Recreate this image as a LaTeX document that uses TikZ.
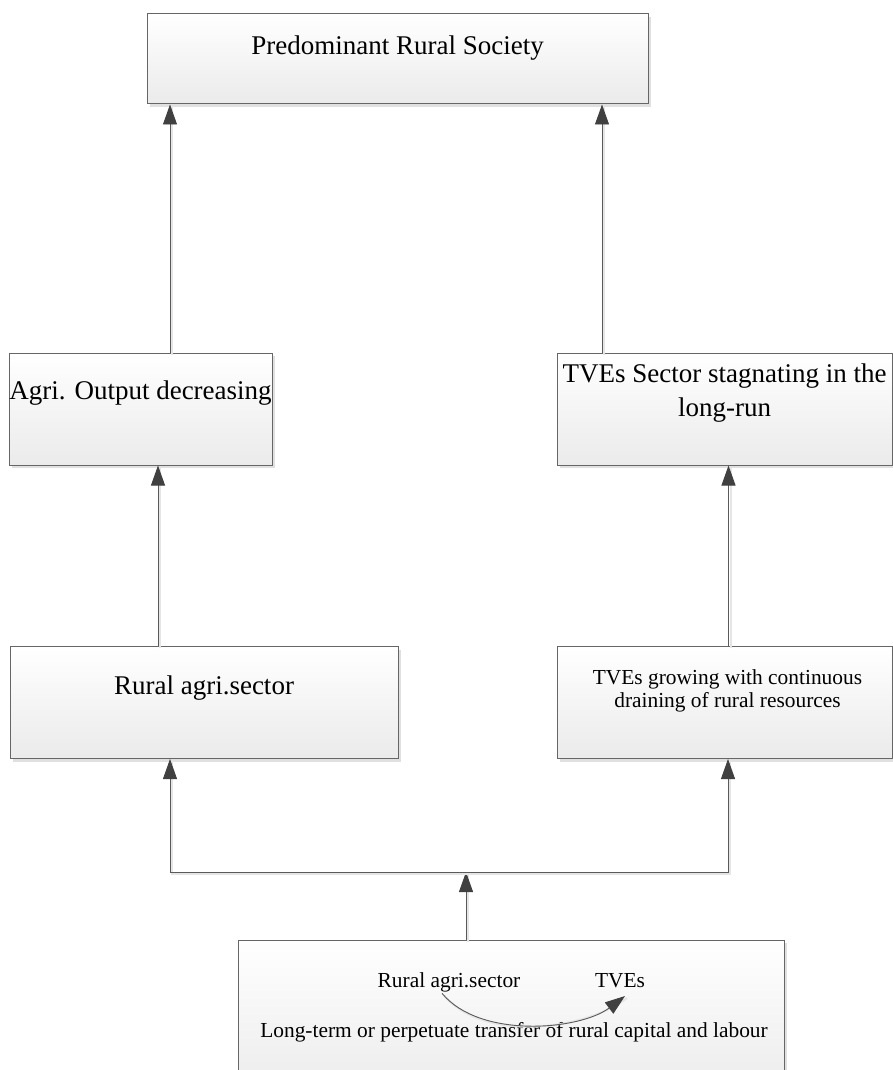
\documentclass[tikz,border=0pt]{standalone}
\usepackage{fontspec}
\setmainfont{Liberation Serif}
\usetikzlibrary{arrows.meta,positioning,shadows}
\definecolor{edgegray}{HTML}{5A5A5A}
\definecolor{tipgray}{HTML}{404040}
\tikzset{
  stagebox/.style={draw=black!60, line width=1pt, top color=white, bottom color=black!8,
    drop shadow={shadow xshift=3pt, shadow yshift=-3pt, fill=black!12, opacity=1}},
  flow/.style={draw=edgegray, line width=0.9pt, -{Triangle[length=20pt,width=14pt,color=tipgray]},
    preaction={draw=black!10, line width=2pt, -, transform canvas={shift={(2pt,-2pt)}}}},
  forkflow/.style={flow, {Triangle[length=20pt,width=14pt,color=tipgray]}-{Triangle[length=20pt,width=14pt,color=tipgray]}},
  bigtext/.style={font=\fontsize{27}{34}\selectfont, align=center, inner sep=0pt},
  smalltext/.style={font=\fontsize{21.4}{23}\selectfont, align=center, inner sep=0pt}
}
\begin{document}
\begin{tikzpicture}[x=1pt, y=-1pt]
  \useasboundingbox (0,0) rectangle (892,1070);
  % boxes
  \node[stagebox, minimum width=501pt, minimum height=90pt] (society) at (397.5,59) {};
  \node[stagebox, minimum width=263pt, minimum height=112pt] (agri) at (140.5,409) {};
  \node[stagebox, minimum width=335pt, minimum height=112pt] (stag) at (724.5,409) {};
  \node[stagebox, minimum width=388pt, minimum height=112pt] (rural) at (204,702.5) {};
  \node[stagebox, minimum width=335pt, minimum height=112pt] (grow) at (724.5,702.5) {};
  \node[stagebox, minimum width=546pt, minimum height=160pt] (transfer) at (511,1020) {};
  % labels (base of a two-line label is its last line)
  \node[bigtext, anchor=base] (societylbl) at ([yshift=-41pt]society.north) {Predominant Rural Society};
  \node[bigtext, anchor=base] (agrilbl) at ([yshift=-47pt]agri.north) {Agri. Output decreasing};
  \node[bigtext, anchor=base] (staglbl) at ([yshift=-64pt]stag.north) {TVEs Sector stagnating in the\\long-run};
  \node[bigtext, anchor=base] (rurallbl) at ([yshift=-48.5pt]rural.north) {Rural agri.sector};
  \node[smalltext, anchor=base] (growlbl) at ([xshift=3pt, yshift=-61.5pt]grow.north) {TVEs growing with continuous\\draining of rural resources};
  \node[smalltext, anchor=base] (srclbl) at ([xshift=-62pt, yshift=-48pt]transfer.north) {Rural agri.sector};
  \node[smalltext, anchor=base] (dstlbl) at ([xshift=109pt, yshift=-48pt]transfer.north) {TVEs};
  \node[smalltext, anchor=base] (transferlbl) at ([xshift=3pt, yshift=-98pt]transfer.north) {Long-term or perpetuate transfer of rural capital and labour};
  % connectors
  \coordinate (agriup) at ([xshift=29.5pt]agri.north);
  \coordinate (stagup) at ([xshift=-122.5pt]stag.north);
  \coordinate (ruralup) at ([xshift=-46pt]rural.north);
  \coordinate (growup) at ([xshift=4pt]grow.north);
  \coordinate (transup) at ([xshift=-45pt]transfer.north);
  \coordinate (forkmid) at (466,872);
  \coordinate (forkleft) at (170,872);
  \coordinate (forkright) at (728,872);
  \draw[flow] (agriup) -- (agriup |- society.south);
  \draw[flow] (stagup) -- (stagup |- society.south);
  \draw[flow] (ruralup) -- (ruralup |- agri.south);
  \draw[flow] (growup) -- (growup |- stag.south);
  \draw[flow] (transup) -- (forkmid);
  \draw[forkflow] (forkleft |- rural.south) -- (forkleft) -- (forkright) -- (forkright |- grow.south);
  \draw[flow] ([xshift=-7pt, yshift=-1pt]srclbl.south) .. controls +(38,46) and +(-45,34) .. ([xshift=5pt, yshift=-8pt]dstlbl.south);
\end{tikzpicture}
\end{document}
